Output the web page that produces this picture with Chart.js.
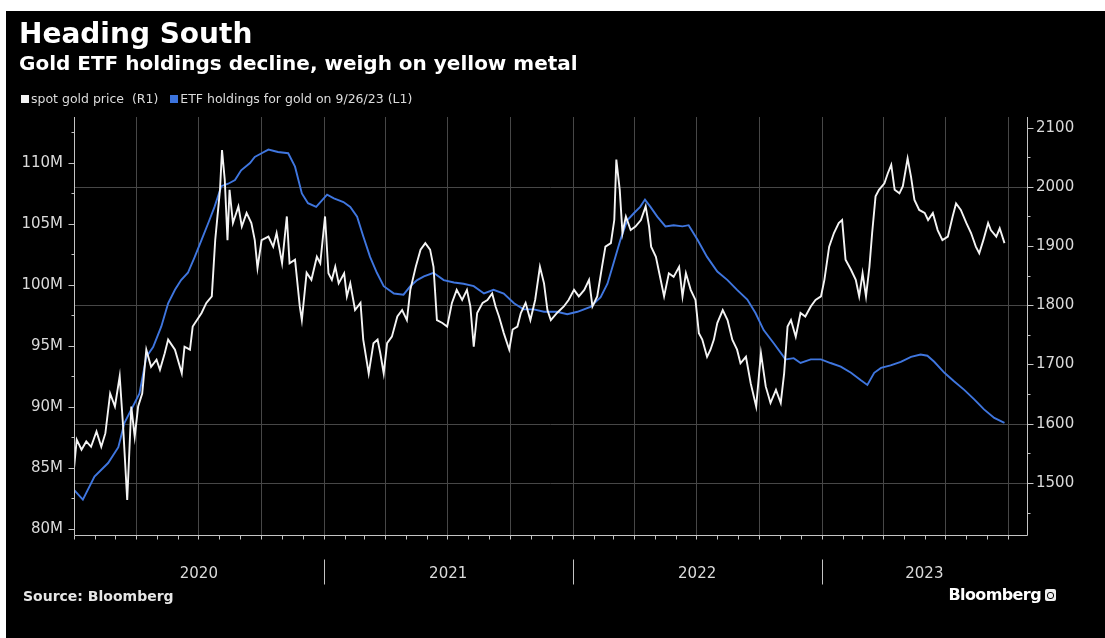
<!DOCTYPE html>
<html>
<head>
<meta charset="utf-8">
<script src="https://cdn.jsdelivr.net/npm/chart.js@4.4.0/dist/chart.umd.min.js"></script>
<style>
html,body{margin:0;padding:0;background:#fff;width:1105px;height:638px;overflow:hidden;}
#bg{position:absolute;left:6px;top:11px;width:1099px;height:627px;background:#000;}
#c{position:absolute;left:0;top:0;}
.t{position:absolute;color:#fff;font-family:"DejaVu Sans",sans-serif;white-space:pre;}
.sq{display:inline-block;width:8px;height:8px;margin-right:2px;vertical-align:0px;}
</style>
</head>
<body>
<div id="bg"></div>
<canvas id="c" width="1105" height="638"></canvas>
<div class="t" style="left:19px;top:20px;font-size:28px;line-height:28px;font-weight:bold;">Heading South</div>
<div class="t" style="left:19px;top:53px;font-size:20px;line-height:20px;font-weight:bold;">Gold ETF holdings decline, weigh on yellow metal</div>
<div class="t" style="left:21px;top:92px;font-size:12.5px;line-height:13px;color:#dcdcdc;"><span class="sq" style="background:#f2f2f2"></span>spot gold price  (R1)   <span class="sq" style="background:#3b73dd"></span>ETF holdings for gold on 9/26/23 (L1)</div>
<div class="t" style="left:23px;top:589px;font-size:14px;line-height:14px;font-weight:bold;color:#e6e6e6;">Source: Bloomberg</div>
<div class="t" style="right:64px;top:587px;font-size:16px;line-height:16px;font-weight:bold;letter-spacing:-0.6px;">Bloomberg</div>
<div style="position:absolute;left:1045px;top:589px;width:11px;height:12px;background:#eee;border-radius:2px;"><div style="position:absolute;left:2px;top:3px;width:5px;height:5px;border:1px solid #000;border-radius:3px;"></div></div>
<script>
// ---- data (x = days since 2020-01-01) ----
const goldDay = [
 0,4,11,18,25,33,40,46,53,60,
 67,72,78,84,89,94,100,106,113,121,
 126,133,138,148,158,162,170,174,187,194,
 202,207,214,217,221,225,228,233,241,246,
 253,260,265,269,275,285,292,297,305,312,
 316,324,331,334,341,348,356,361,368,373,
 378,383,388,396,400,405,412,420,424,432,
 439,445,449,454,459,466,474,481,488,493,
 501,508,515,522,527,532,540,547,554,561,
 569,576,581,586,591,599,606,613,618,623,
 630,638,643,650,655,662,669,676,683,689,
 694,699,708,718,725,733,740,748,755,760,
 767,774,779,787,792,795,800,804,809,816,
 823,831,838,843,846,853,858,865,872,879,
 887,892,897,904,911,916,921,928,933,938,
 943,951,958,965,972,977,985,992,1000,1007,
 1014,1021,1029,1036,1041,1046,1051,1058,1065,1072,
 1080,1087,1095,1100,1107,1114,1121,1126,1131,1139,
 1146,1151,1156,1161,1166,1170,1175,1180,1188,1193,
 1198,1203,1210,1215,1222,1227,1232,1239,1247,1252,
 1259,1266,1273,1281,1288,1293,1300,1308,1315,1322,
 1327,1333,1340,1344,1352,1357,1364
];
const goldPrice = [
 1525,1573,1556,1570,1561,1587,1561,1584,1651,1629,
 1680,1595,1471,1629,1578,1629,1651,1725,1696,1708,
 1691,1719,1742,1725,1685,1730,1725,1764,1787,1804,
 1815,1910,1995,2062,2012,1910,1995,1939,1967,1933,
 1956,1939,1910,1863,1910,1916,1899,1922,1871,1950,
 1871,1877,1798,1775,1855,1843,1882,1871,1950,1854,
 1843,1865,1837,1854,1815,1837,1792,1804,1742,1685,
 1736,1742,1719,1685,1736,1747,1781,1792,1775,1826,
 1865,1894,1905,1894,1865,1775,1770,1764,1804,1826,
 1809,1826,1798,1730,1787,1804,1809,1820,1798,1781,
 1753,1725,1759,1764,1787,1804,1775,1809,1865,1837,
 1792,1775,1787,1798,1809,1826,1815,1826,1843,1798,
 1815,1865,1899,1905,1944,2046,1995,1922,1950,1927,
 1933,1944,1967,1933,1899,1882,1854,1815,1854,1848,
 1865,1815,1854,1826,1809,1753,1742,1713,1725,1742,
 1770,1792,1775,1742,1725,1702,1713,1668,1629,1719,
 1663,1635,1657,1635,1685,1764,1775,1747,1787,1781,
 1798,1809,1815,1843,1899,1922,1939,1944,1877,1860,
 1843,1815,1854,1815,1865,1922,1984,1995,2006,2023,
 2037,1995,1989,2001,2048,2017,1978,1961,1956,1944,
 1956,1927,1910,1916,1950,1972,1961,1939,1922,1899,
 1888,1910,1939,1927,1916,1930,1905
];
const etfDay = [
 0,13,30,50,65,74,96,106,116,128,
 138,148,157,167,177,187,197,206,216,226,
 236,245,258,265,275,285,299,314,324,334,
 343,355,371,381,395,405,415,424,434,444,
 454,469,483,493,503,513,527,542,557,571,
 586,601,615,630,645,659,674,689,708,723,
 738,757,772,782,791,801,811,821,830,837,
 845,855,867,879,892,901,914,928,943,958,
 972,987,999,1011,1026,1043,1055,1065,1080,1095,
 1109,1124,1139,1153,1163,1173,1183,1197,1212,1227,
 1241,1251,1261,1276,1290,1305,1320,1334,1349,1364
];
const etfHoldingsM = [
 83.2,82.4,84.3,85.4,86.7,88.7,91.1,94.1,94.9,96.6,
 98.5,99.6,100.4,101.0,102.3,103.7,105.1,106.4,108.1,108.3,
 108.6,109.4,110.0,110.5,110.8,111.1,110.9,110.8,109.7,107.5,
 106.7,106.4,107.4,107.1,106.8,106.4,105.6,104.0,102.3,101.0,
 99.9,99.3,99.2,99.9,100.4,100.7,101.0,100.4,100.2,100.1,
 99.9,99.3,99.6,99.3,98.5,98.0,98.0,97.8,97.8,97.6,
 97.8,98.2,99.0,100.1,101.8,103.7,105.3,105.9,106.4,107.0,
 106.4,105.6,104.8,104.9,104.8,104.9,103.7,102.3,101.1,100.4,
 99.6,98.8,97.7,96.3,95.2,93.9,94.0,93.6,93.9,93.9,
 93.6,93.3,92.8,92.2,91.8,92.8,93.2,93.4,93.7,94.1,
 94.3,94.2,93.7,92.8,92.1,91.4,90.6,89.8,89.1,88.7
];
const leftTicks = [80,85,90,95,100,105,110];
const rightTicks = [1500,1600,1700,1800,1900,2000,2100];
const gridPrices = [1500,1600,1800,2000];
const years = [2020,2021,2022,2023];

// ---- helpers ----
const DAY = 864e5, T0 = Date.UTC(2020,0,1);
const dayOf = (y,m,d) => (Date.UTC(y,m,d||1) - T0) / DAY;
const X_MAX = dayOf(2023,9,29);
const yearMid = years.map(y => (dayOf(y,0,1) + Math.min(dayOf(y+1,0,1), X_MAX)) / 2);
const quarters = [], months = [];
for (const y of years) for (let m = 0; m < 12; m++) {
  const d = dayOf(y,m,1);
  if (d > X_MAX) continue;
  months.push(d);
  if (m % 3 === 0 && d > 0) quarters.push(d);
}
const yearStarts = years.slice(1).map(y => dayOf(y,0,1));

const AX = '#c4c4c4', GRID = '#474747', LBL = '#dadada';
const font = {family:'"DejaVu Sans", sans-serif', size:15};

const frame = {
  id:'frame',
  beforeDatasetsDraw(chart){
    const {ctx, chartArea:a, scales} = chart;
    ctx.save(); ctx.strokeStyle = GRID; ctx.lineWidth = 1;
    ctx.beginPath();
    gridPrices.forEach(v => { const y = Math.round(scales.yR.getPixelForValue(v)) + 0.5; ctx.moveTo(a.left,y); ctx.lineTo(a.right,y); });
    quarters.forEach(d => { const x = Math.round(scales.x.getPixelForValue(d)) + 0.5; ctx.moveTo(x,a.top); ctx.lineTo(x,a.bottom); });
    ctx.stroke(); ctx.restore();
  },
  afterDraw(chart){
    const {ctx, chartArea:a, scales} = chart;
    ctx.save(); ctx.strokeStyle = AX; ctx.lineWidth = 1;
    const L = Math.round(a.left) + 0.5, R = Math.round(a.right) + 0.5, B = Math.round(a.bottom) + 0.5;
    ctx.beginPath();
    ctx.moveTo(L, a.top); ctx.lineTo(L, B); ctx.lineTo(R, B); ctx.lineTo(R, a.top);
    for (let v = 80; v <= 112.5; v += 2.5) {
      const y = Math.round(scales.yL.getPixelForValue(v)) + 0.5;
      ctx.moveTo(L - (v % 5 === 0 ? 6 : 3), y); ctx.lineTo(L, y);
    }
    for (let v = 1450; v <= 2100; v += 50) {
      const y = Math.round(scales.yR.getPixelForValue(v)) + 0.5;
      ctx.moveTo(R, y); ctx.lineTo(R + (v % 100 === 0 ? 6 : 3), y);
    }
    months.forEach(d => { const x = Math.round(scales.x.getPixelForValue(d)) + 0.5; ctx.moveTo(x, B); ctx.lineTo(x, B + 4); });
    yearStarts.forEach(d => { const x = Math.round(scales.x.getPixelForValue(d)) + 0.5; ctx.moveTo(x, B + 24); ctx.lineTo(x, B + 49); });
    ctx.stroke(); ctx.restore();
  }
};

new Chart(document.getElementById('c'), {
  type:'line',
  data:{datasets:[
    {label:'spot gold price (R1)', data:goldDay.map((d,i)=>({x:d,y:goldPrice[i]})), yAxisID:'yR',
     borderColor:'#f4f4f4', borderWidth:1.9, pointRadius:0, tension:0},
    {label:'ETF holdings for gold on 9/26/23 (L1)', data:etfDay.map((d,i)=>({x:d,y:etfHoldingsM[i]})), yAxisID:'yL',
     borderColor:'#3f76df', borderWidth:1.9, pointRadius:0, tension:0}
  ]},
  options:{
    responsive:false, animation:false, devicePixelRatio:1,
    layout:{padding:{top:117,left:0,right:0,bottom:0}},
    plugins:{legend:{display:false}, tooltip:{enabled:false}},
    scales:{
      x:{type:'linear', position:'bottom', min:0, max:X_MAX,
         grid:{display:false, drawTicks:false}, border:{display:false},
         afterBuildTicks:s=>{s.ticks = yearMid.map(v=>({value:v}));},
         afterFit:s=>{s.height = 103;},
         ticks:{color:LBL, font, padding:30, maxRotation:0, autoSkip:false,
                callback:(v,i)=>String(years[i])}},
      yL:{type:'linear', position:'left', min:79.5, max:113.77,
         grid:{display:false, drawTicks:false}, border:{display:false},
         afterBuildTicks:s=>{s.ticks = leftTicks.map(v=>({value:v}));},
         afterFit:s=>{s.width = 74;},
         ticks:{color:LBL, font, padding:11, callback:v=>v+'M'}},
      yR:{type:'linear', position:'right', min:1412, max:2118,
         grid:{display:false, drawTicks:false}, border:{display:false},
         afterBuildTicks:s=>{s.ticks = rightTicks.map(v=>({value:v}));},
         afterFit:s=>{s.width = 78;},
         ticks:{color:LBL, font, padding:9, callback:v=>String(v)}}
    }
  },
  plugins:[frame]
});
</script>
</body>
</html>
